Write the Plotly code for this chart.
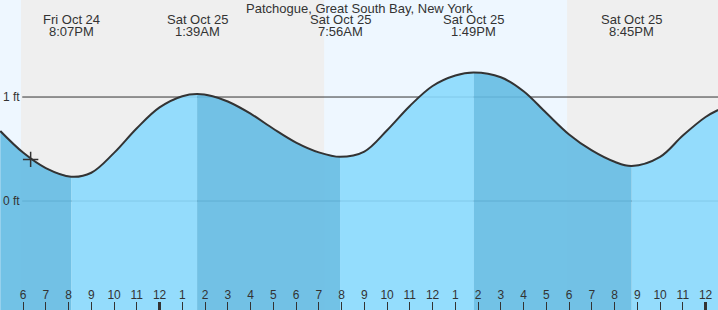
import plotly.graph_objects as go

# ---- data ----
times = [
    "2025-10-24 17:00", "2025-10-24 18:00", "2025-10-24 19:00", "2025-10-24 20:07",
    "2025-10-24 21:00", "2025-10-24 22:00", "2025-10-24 23:00", "2025-10-25 00:00",
    "2025-10-25 01:00", "2025-10-25 01:39", "2025-10-25 02:20", "2025-10-25 03:00",
    "2025-10-25 04:00", "2025-10-25 05:00", "2025-10-25 06:00", "2025-10-25 07:00",
    "2025-10-25 07:56", "2025-10-25 09:00", "2025-10-25 10:00", "2025-10-25 11:00",
    "2025-10-25 12:00", "2025-10-25 13:00", "2025-10-25 13:49", "2025-10-25 15:00",
    "2025-10-25 16:00", "2025-10-25 17:00", "2025-10-25 18:00", "2025-10-25 19:00",
    "2025-10-25 20:00", "2025-10-25 20:45", "2025-10-25 22:00", "2025-10-25 23:00",
    "2025-10-26 00:00", "2025-10-26 00:33",
]
heights = [
    0.673, 0.466, 0.317, 0.234,
    0.272, 0.463, 0.700, 0.900,
    1.008, 1.029, 1.008, 0.957,
    0.840, 0.695, 0.562, 0.468,
    0.425, 0.476, 0.681, 0.914,
    1.106, 1.207, 1.236, 1.190,
    1.055, 0.846, 0.640, 0.486,
    0.377, 0.337, 0.425, 0.630,
    0.808, 0.875,
]

extreme_times = ["2025-10-24 20:07", "2025-10-25 01:39", "2025-10-25 07:56",
                 "2025-10-25 13:49", "2025-10-25 20:45"]
extreme_days = ["Fri Oct 24", "Sat Oct 25", "Sat Oct 25", "Sat Oct 25", "Sat Oct 25"]
extreme_clock = ["8:07PM", "1:39AM", "7:56AM", "1:49PM", "8:45PM"]

now_time = "2025-10-24 18:20"
now_height = 0.40

sun_edges = ["2025-10-24 17:55", "2025-10-25 07:14", "2025-10-25 17:55"]

tick_times = [
    "2025-10-24 17:00", "2025-10-24 18:00", "2025-10-24 19:00", "2025-10-24 20:00",
    "2025-10-24 21:00", "2025-10-24 22:00", "2025-10-24 23:00", "2025-10-25 00:00",
    "2025-10-25 01:00", "2025-10-25 02:00", "2025-10-25 03:00", "2025-10-25 04:00",
    "2025-10-25 05:00", "2025-10-25 06:00", "2025-10-25 07:00", "2025-10-25 08:00",
    "2025-10-25 09:00", "2025-10-25 10:00", "2025-10-25 11:00", "2025-10-25 12:00",
    "2025-10-25 13:00", "2025-10-25 14:00", "2025-10-25 15:00", "2025-10-25 16:00",
    "2025-10-25 17:00", "2025-10-25 18:00", "2025-10-25 19:00", "2025-10-25 20:00",
    "2025-10-25 21:00", "2025-10-25 22:00", "2025-10-25 23:00", "2025-10-26 00:00",
]
tick_labels = ["5", "6", "7", "8", "9", "10", "11", "12", "1", "2", "3", "4",
               "5", "6", "7", "8", "9", "10", "11", "12", "1", "2", "3", "4",
               "5", "6", "7", "8", "9", "10", "11", "12"]
midnights = ["2025-10-25 00:00", "2025-10-26 00:00"]

x_range = ["2025-10-24 16:59:13", "2025-10-26 00:32:43"]
y_range = [-1.048, 1.933]

TITLE = "Patchogue, Great South Bay, New York"

FALL = "rgba(100,187,227,0.9)"
RISE = "rgba(137,217,253,0.9)"
DAY = "#eef7ff"
NIGHT = "#efefef"
INK = "#333333"
FONT = "Liberation Sans, Arial, sans-serif"

fig = go.Figure()

# ---- filled segments (falling tide darker) ----
bounds = [times[0]] + extreme_times + [times[-1]]
for i in range(len(bounds) - 1):
    a, b = bounds[i], bounds[i + 1]
    seg_x = [t for t in times if a <= t <= b]
    seg_y = [h for t, h in zip(times, heights) if a <= t <= b]
    color = FALL if i % 2 == 0 else RISE
    fig.add_trace(go.Scatter(x=seg_x, y=[y_range[0] - 0.5] * len(seg_x),
                             mode="lines", line=dict(width=0), hoverinfo="skip"))
    fig.add_trace(go.Scatter(x=seg_x, y=seg_y, mode="lines", fill="tonexty",
                             fillcolor=color, line=dict(width=0, shape="spline"),
                             hoverinfo="skip"))

# ---- curve line ----
fig.add_trace(go.Scatter(x=times, y=heights, mode="lines",
                         line=dict(color=INK, width=2, shape="spline"),
                         hoverinfo="skip"))

# ---- current time marker ----
fig.add_trace(go.Scatter(x=[now_time], y=[now_height], mode="markers", xaxis="x2",
                         marker=dict(symbol="cross-thin", size=11,
                                     line=dict(color=INK, width=1.5)),
                         hoverinfo="skip"))

# ---- day / night background ----
edges = [x_range[0]] + sun_edges + [x_range[1]]
shapes = []
for i in range(len(edges) - 1):
    shapes.append(dict(type="rect", xref="x", yref="paper", x0=edges[i], x1=edges[i + 1],
                       y0=0, y1=1, fillcolor=DAY if i % 2 == 0 else NIGHT,
                       line=dict(width=0), layer="below"))
for lvl in [0, 1]:
    shapes.append(dict(type="line", xref="paper", yref="y", x0=0.031, x1=1,
                       y0=lvl, y1=lvl, line=dict(color=INK, width=1), layer="between"))

annotations = [dict(text=TITLE, xref="paper", yref="paper", x=0.5, y=1,
                    yanchor="middle", yshift=-8, showarrow=False,
                    font=dict(family=FONT, size=13, color=INK))]
for t, d, c in zip(extreme_times, extreme_days, extreme_clock):
    annotations.append(dict(text=d, xref="x", yref="paper", x=t, y=1, yanchor="middle",
                            yshift=-19, showarrow=False,
                            font=dict(family=FONT, size=13, color=INK)))
    annotations.append(dict(text=c, xref="x", yref="paper", x=t, y=1, yanchor="middle",
                            yshift=-31, showarrow=False,
                            font=dict(family=FONT, size=13, color=INK)))

fig.update_layout(
    width=718, height=310, margin=dict(l=0, r=0, t=0, b=0),
    paper_bgcolor=NIGHT, plot_bgcolor=NIGHT, showlegend=False,
    shapes=shapes, annotations=annotations,
    font=dict(family=FONT, size=12, color=INK),
    xaxis=dict(type="date", range=x_range, tickvals=tick_times, ticktext=tick_labels,
               ticks="inside", ticklen=8, tickwidth=1, tickcolor=INK,
               ticklabelposition="inside", ticklabelstandoff=0,
               tickfont=dict(family=FONT, size=12, color=INK),
               showgrid=False, zeroline=False, showline=False, fixedrange=True),
    xaxis2=dict(type="date", range=x_range, overlaying="x", anchor="y", side="bottom",
                tickvals=midnights, ticks="inside", ticklen=8, tickwidth=3,
                tickcolor=INK, showticklabels=False, showgrid=False,
                zeroline=False, showline=False),
    yaxis=dict(range=y_range, tickvals=[0, 1], ticktext=["0 ft", "1 ft"],
               ticklabelposition="inside", ticks="",
               tickfont=dict(family=FONT, size=12, color=INK),
               showgrid=False, zeroline=False, showline=False, fixedrange=True),
)

fig.write_html("out.html")
